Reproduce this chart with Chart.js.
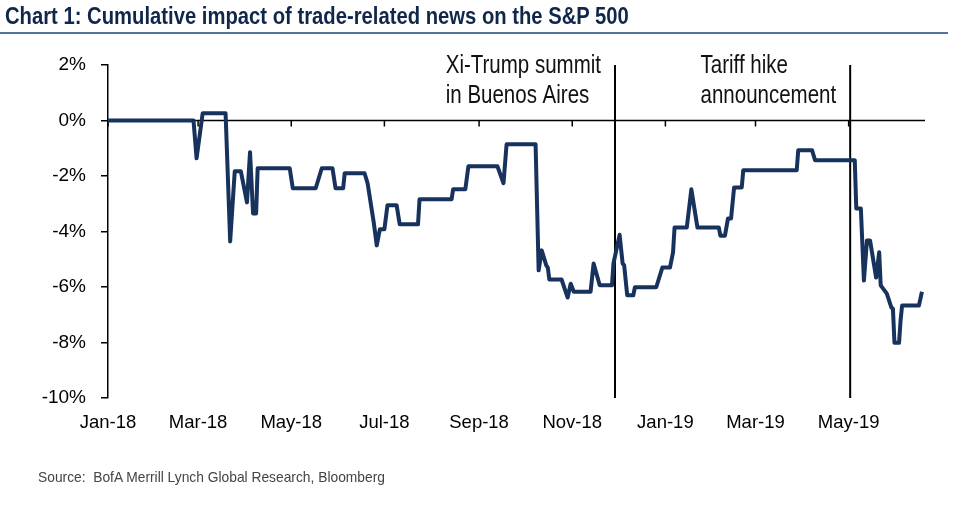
<!DOCTYPE html>
<html>
<head>
<meta charset="utf-8">
<script src="https://cdn.jsdelivr.net/npm/chart.js@4.4.1/dist/chart.umd.min.js"></script>
<style>
    body { margin: 0; background: #fff; }
    #wrap { position: relative; width: 960px; height: 515px; overflow: hidden; }
    #titulo { position: absolute; left: 5px; top: 3px; font: bold 23px 'Liberation Sans', Arial, sans-serif; color: #10264a; white-space: nowrap; transform: scaleX(0.88); transform-origin: 0 0; }
    #regua { position: absolute; left: 0; top: 32px; width: 948px; height: 2px; background: #56739f; }
    #fonte { position: absolute; left: 38px; top: 468px; font: 15px 'Liberation Sans', Arial, sans-serif; color: #444; white-space: nowrap; transform: scaleX(0.92); transform-origin: 0 0; }
    canvas { position: absolute; left: 0; top: 0; }
</style>
</head>
<body>
<div id="wrap">
    <canvas id="grafico-linha" width="960" height="515"></canvas>
    <div id="titulo">Chart 1: Cumulative impact of trade-related news on the S&amp;P 500</div>
    <div id="regua"></div>
    <div id="fonte">Source:&nbsp; BofA Merrill Lynch Global Research, Bloomberg</div>
</div>
<script>
// pontos (data, impacto acumulado em %)
const datas = [
    '2018-01-01', '2018-02-26', '2018-02-28', '2018-03-04', '2018-03-19', '2018-03-22', '2018-03-25', '2018-03-29',
    '2018-04-02', '2018-04-04', '2018-04-06', '2018-04-08', '2018-04-09', '2018-04-30', '2018-05-02', '2018-05-17',
    '2018-05-21', '2018-05-28', '2018-05-30', '2018-06-04', '2018-06-05', '2018-06-18', '2018-06-20', '2018-06-24',
    '2018-06-26', '2018-06-28', '2018-07-01', '2018-07-03', '2018-07-09', '2018-07-11', '2018-07-23', '2018-07-24',
    '2018-08-14', '2018-08-15', '2018-08-23', '2018-08-25', '2018-09-13', '2018-09-17', '2018-09-19', '2018-10-08',
    '2018-10-10', '2018-10-12', '2018-10-15', '2018-10-16', '2018-10-17', '2018-10-25', '2018-10-29', '2018-10-31',
    '2018-11-02', '2018-11-13', '2018-11-15', '2018-11-19', '2018-11-27', '2018-11-28', '2018-12-02', '2018-12-04',
    '2018-12-05', '2018-12-07', '2018-12-11', '2018-12-12', '2018-12-26', '2018-12-30', '2019-01-04', '2019-01-06',
    '2019-01-07', '2019-01-15', '2019-01-18', '2019-01-22', '2019-02-05', '2019-02-06', '2019-02-09', '2019-02-11',
    '2019-02-13', '2019-02-15', '2019-02-20', '2019-02-21', '2019-03-28', '2019-03-29', '2019-04-07', '2019-04-09',
    '2019-05-05', '2019-05-06', '2019-05-09', '2019-05-11', '2019-05-13', '2019-05-15', '2019-05-19', '2019-05-21',
    '2019-05-22', '2019-05-26', '2019-05-29', '2019-05-30', '2019-05-31', '2019-06-03', '2019-06-04', '2019-06-05',
    '2019-06-16', '2019-06-18'
];
const impacto = [
    0, 0, -1.36, 0.26, 0.26, -4.36, -1.83, -1.83,
    -2.95, -1.14, -3.35, -3.35, -1.72, -1.72, -2.44, -2.44,
    -1.72, -1.72, -2.44, -2.44, -1.9, -1.9, -2.26, -3.67,
    -4.5, -3.92, -3.92, -3.05, -3.05, -3.74, -3.74, -2.84,
    -2.84, -2.48, -2.48, -1.65, -1.65, -2.26, -0.86, -0.86,
    -5.4, -4.68, -5.22, -5.3, -5.73, -5.73, -6.38, -5.88,
    -6.17, -6.17, -5.15, -5.94, -5.94, -5.15, -4.12, -5.15,
    -5.22, -6.3, -6.3, -6.01, -6.01, -5.3, -5.3, -4.75,
    -3.86, -3.86, -2.48, -3.86, -3.86, -4.15, -4.15, -3.53,
    -3.53, -2.41, -2.41, -1.79, -1.79, -1.07, -1.07, -1.43,
    -1.43, -3.17, -3.17, -5.77, -4.32, -4.32, -5.66, -4.75,
    -5.94, -6.24, -6.74, -6.78, -8.01, -8.01, -7.21, -6.67,
    -6.67, -6.17
];

const mesesTicks = ['2018-01-01', '2018-03-01', '2018-05-01', '2018-07-01', '2018-09-01', '2018-11-01', '2019-01-01', '2019-03-01', '2019-05-01'];
const mesesLabels = ['Jan-18', 'Mar-18', 'May-18', 'Jul-18', 'Sep-18', 'Nov-18', 'Jan-19', 'Mar-19', 'May-19'];
const yTicks = [2, 0, -2, -4, -6, -8, -10];

const eventos = ['2018-11-29', '2019-05-02'];
const eventosTexto = [['Xi-Trump summit', 'in Buenos Aires'], ['Tariff hike', 'announcement']];

const fonte = "'Liberation Sans', Arial, sans-serif";

// dias desde 1 jan 2018
function dia(s) {
    return (Date.UTC(+s.slice(0, 4), +s.slice(5, 7) - 1, +s.slice(8, 10)) - Date.UTC(2018, 0, 1)) / 86400000;
}

const pontos = datas.map(function (d, i) {
    return { x: dia(d), y: impacto[i] };
});

// linha do zero com marcas dos meses, linhas verticais dos eventos e textos
const extras = {
    id: 'extras',
    beforeDatasetsDraw: function (chart) {
        const ctx = chart.ctx;
        const area = chart.chartArea;
        const x = chart.scales.x;
        const y = chart.scales.y;
        const y0 = y.getPixelForValue(0);

        ctx.save();
        ctx.strokeStyle = '#000';
        ctx.lineWidth = 1.5;
        ctx.beginPath();
        ctx.moveTo(area.left, y0);
        ctx.lineTo(area.right, y0);
        mesesTicks.forEach(function (d) {
            const px = x.getPixelForValue(dia(d));
            ctx.moveTo(px, y0);
            ctx.lineTo(px, y0 + 6);
        });
        ctx.stroke();

        ctx.lineWidth = 2;
        ctx.font = '25px ' + fonte;
        ctx.fillStyle = '#111';
        ctx.textBaseline = 'alphabetic';
        const estreito = 0.82; // texto condensado como no original
        eventos.forEach(function (d, i) {
            const px = x.getPixelForValue(dia(d));
            ctx.beginPath();
            ctx.moveTo(px, area.top);
            ctx.lineTo(px, area.bottom);
            ctx.stroke();

            const linhas = eventosTexto[i];
            const larg = estreito * Math.max.apply(null, linhas.map(function (t) { return ctx.measureText(t).width; }));
            linhas.forEach(function (t, j) {
                ctx.save();
                ctx.translate(px - 14 - larg, area.top + 8 + j * 30);
                ctx.scale(estreito, 1);
                ctx.fillText(t, 0, 0);
                ctx.restore();
            });
        });
        ctx.restore();
    }
};

new Chart(document.getElementById('grafico-linha'), {
    type: 'line',
    data: {
        datasets: [
            {
                label: 'Cumulative impact',
                data: pontos,
                borderColor: '#17325c',
                borderWidth: 4,
                borderJoinStyle: 'round',
                pointRadius: 0,
                tension: 0,
                fill: false
            }
        ]
    },
    options: {
        responsive: false,
        animation: false,
        layout: {
            padding: { top: 65, left: 0, right: 35, bottom: 67 }
        },
        plugins: {
            legend: { display: false },
            title: { display: false },
            tooltip: { enabled: false }
        },
        scales: {
            x: {
                type: 'linear',
                min: 0,
                max: 535,
                border: { display: false },
                grid: { display: false, drawTicks: false },
                afterBuildTicks: function (scale) {
                    scale.ticks = mesesTicks.map(function (d) { return { value: dia(d) }; });
                },
                afterFit: function (scale) {
                    scale.height = 50;
                },
                ticks: {
                    autoSkip: false,
                    maxRotation: 0,
                    padding: 14,
                    color: '#000',
                    font: { family: fonte, size: 18.5 },
                    callback: function (v, i) { return mesesLabels[i]; }
                }
            },
            y: {
                min: -10,
                max: 2,
                border: { display: true, color: '#000', width: 1.5 },
                grid: { drawOnChartArea: false, drawTicks: true, tickLength: 7, color: '#000', lineWidth: 1.5 },
                afterBuildTicks: function (scale) {
                    scale.ticks = yTicks.map(function (v) { return { value: v }; });
                },
                afterFit: function (scale) {
                    scale.width = 108;
                },
                ticks: {
                    padding: 15,
                    color: '#000',
                    font: { family: fonte, size: 19 },
                    callback: function (v) { return v + '%'; }
                }
            }
        }
    },
    plugins: [extras]
});
</script>
</body>
</html>
